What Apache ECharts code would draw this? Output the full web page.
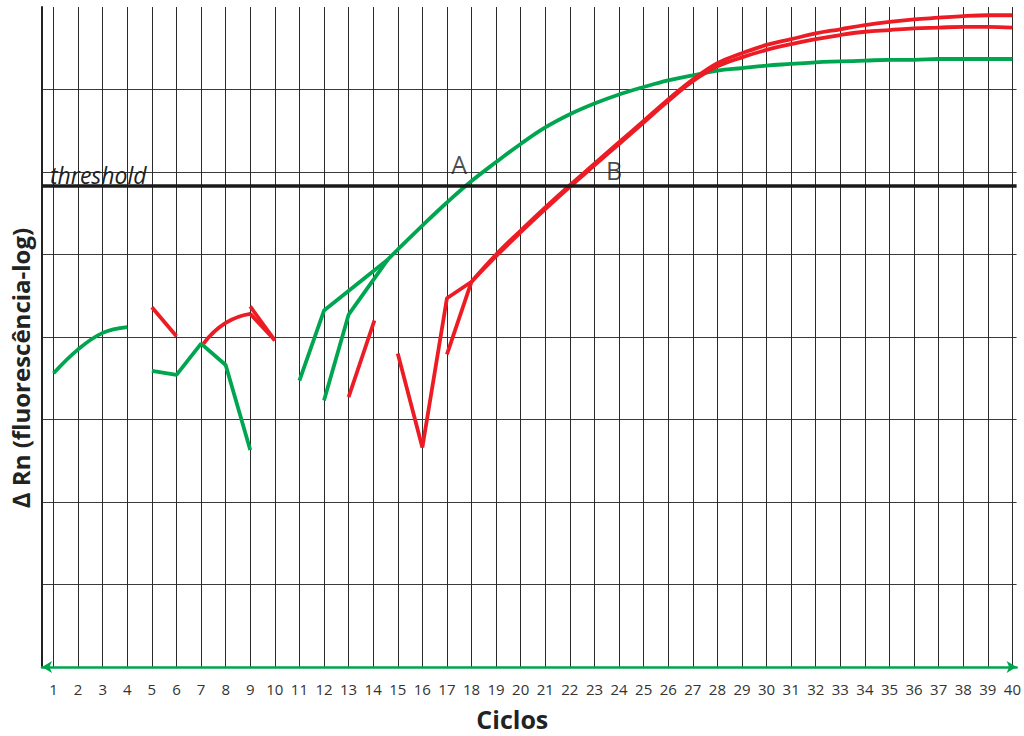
<!DOCTYPE html>
<html>
<head>
<meta charset="utf-8">
<script src="https://cdn.jsdelivr.net/npm/echarts@6/dist/echarts.min.js"></script>
<style>
html,body{margin:0;padding:0;background:#fff;}
#chart{width:1024px;height:736px;}
</style>
</head>
<body>
<div id="chart"></div>
<script>
// ---- data ----
const cycles = [1,2,3,4,5,6,7,8,9,10,11,12,13,14,15,16,17,18,19,20,21,22,23,24,25,26,27,28,29,30,31,32,33,34,35,36,37,38,39,40];
const thresholdLevel = 5.835;

// green (sample A)
const greenEarly = [[1,3.56],[2,3.85],[3,4.05],[4,4.12]];
const greenDip = [[5,3.59],[6,3.54],[7,3.92],[8,3.66],[9,2.63]];
const greenRiseA = [[11,3.47],[12,4.32],[14.6,4.94]];
const greenRiseB = [[12,3.23],[13,4.27],[14.6,4.94]];
const greenCurve = [[14.6,4.94],[15,5.06],[16,5.35],[17,5.63],[18,5.89],[19,6.12],[20,6.34],[21,6.54],[22,6.70],[23,6.83],[24,6.94],[25,7.03],[26,7.11],[27,7.17],[28,7.23],[29,7.26],[30,7.29],[31,7.31],[32,7.33],[33,7.34],[34,7.35],[35,7.36],[36,7.36],[37,7.37],[38,7.37],[39,7.37],[40,7.37]];

// red (sample B)
const redEarly = [[5,4.36],[6,4.01]];
const redArc = [[7.1,3.92],[8,4.17],[9,4.28]];
const redDropA = [[9,4.28],[10,3.96]];
const redDropB = [[9,4.37],[10,3.96]];
const redShort = [[13,3.27],[14.05,4.20]];
const redVee = [[15,3.80],[16,2.66],[17,4.47],[18,4.67]];
const redJump = [[17,3.79],[18,4.67]];
const redCurveUpper = [[18,4.67],[19,5.00],[20,5.29],[21,5.57],[22,5.84],[23,6.10],[24,6.36],[25,6.62],[26,6.88],[27,7.12],[28,7.32],[29,7.44],[30,7.54],[31,7.61],[32,7.68],[33,7.73],[34,7.78],[35,7.82],[36,7.85],[37,7.87],[38,7.89],[39,7.90],[40,7.90]];
const redCurveLower = [[18,4.67],[19,4.98],[20,5.27],[21,5.55],[22,5.82],[23,6.08],[24,6.34],[25,6.60],[26,6.86],[27,7.10],[28,7.28],[29,7.39],[30,7.48],[31,7.55],[32,7.61],[33,7.66],[34,7.70],[35,7.72],[36,7.74],[37,7.75],[38,7.76],[39,7.76],[40,7.75]];

const annotations = [{name:'A', value:[17.5,6.10]},{name:'B', value:[23.8,6.02]}];

// ---- chart ----
const GREEN = '#00a550';
const RED = '#ed1c24';
const FONT = '"Open Sans", "Noto Sans", sans-serif';

function seg(data, color, smooth, extra) {
  return Object.assign({
    type: 'line', data: data, smooth: smooth, symbol: 'none', silent: true,
    lineStyle: {color: color, width: 3.8},
    itemStyle: {color: color},
    emphasis: {disabled: true}, z: 3
  }, extra || {});
}

const chart = echarts.init(document.getElementById('chart'), null, {renderer: 'svg'});
chart.setOption({
  animation: false,
  backgroundColor: '#fff',
  grid: {left: 41.7, right: 2, top: 7, bottom: 65},
  xAxis: {
    type: 'value', min: 0.53, max: 40.17,
    name: 'Ciclos', nameLocation: 'middle', nameGap: 39,
    nameTextStyle: {fontFamily: FONT, fontSize: 25, fontWeight: 'bold', color: '#222', padding: [0, 34, 0, 0]},
    axisLine: {show: true, lineStyle: {color: GREEN, width: 2.5}, symbol: ['arrow', 'arrow'], symbolSize: [9, 10]},
    axisTick: {show: false, customValues: cycles},
    axisLabel: {customValues: cycles, fontFamily: FONT, fontSize: 15, color: '#333', margin: 14},
    splitLine: {show: true, lineStyle: {color: '#2a2a2a', width: 1}}
  },
  yAxis: {
    type: 'value', min: 0, max: 8, interval: 1,
    name: '\u2206 Rn (fluorescência-log)', nameLocation: 'middle', nameRotate: 90, nameGap: 10,
    nameTextStyle: {fontFamily: FONT, fontSize: 24, fontWeight: 'bold', color: '#222', padding: [0, 62, 0, 0]},
    axisLine: {show: true, lineStyle: {color: '#222', width: 2}},
    axisTick: {show: false},
    axisLabel: {show: false},
    splitLine: {show: true, showMinLine: false, showMaxLine: false, lineStyle: {color: '#3a3a3a', width: 1}}
  },
  series: [
    seg(greenEarly, GREEN, 0.4),
    seg(greenDip, GREEN, false),
    seg(greenRiseA, GREEN, false),
    seg(greenRiseB, GREEN, false),
    seg(greenCurve, GREEN, 0.4, {
      markLine: {
        silent: true, symbol: ['none', 'none'], animation: false,
        lineStyle: {color: '#1a1a1a', width: 3.5, type: 'solid'},
        emphasis: {disabled: true},
        label: {show: true, position: 'insideStartTop', formatter: 'threshold', fontFamily: FONT, fontStyle: 'italic', fontSize: 23, color: '#222', distance: [8, 0]},
        data: [{yAxis: thresholdLevel}]
      }
    }),
    seg(redEarly, RED, false),
    seg(redArc, RED, 0.5),
    seg(redDropA, RED, false),
    seg(redDropB, RED, false),
    seg(redShort, RED, false),
    seg(redVee, RED, false),
    seg(redJump, RED, false),
    seg(redCurveUpper, RED, 0.4),
    seg(redCurveLower, RED, 0.4),
    {
      type: 'scatter', data: annotations, symbolSize: 1, silent: true,
      itemStyle: {color: 'rgba(0,0,0,0)'},
      label: {show: true, position: 'inside', formatter: '{b}', fontFamily: FONT, fontSize: 25, color: '#1a1a1a'},
      emphasis: {disabled: true}, z: 5
    }
  ]
});
</script>
</body>
</html>
